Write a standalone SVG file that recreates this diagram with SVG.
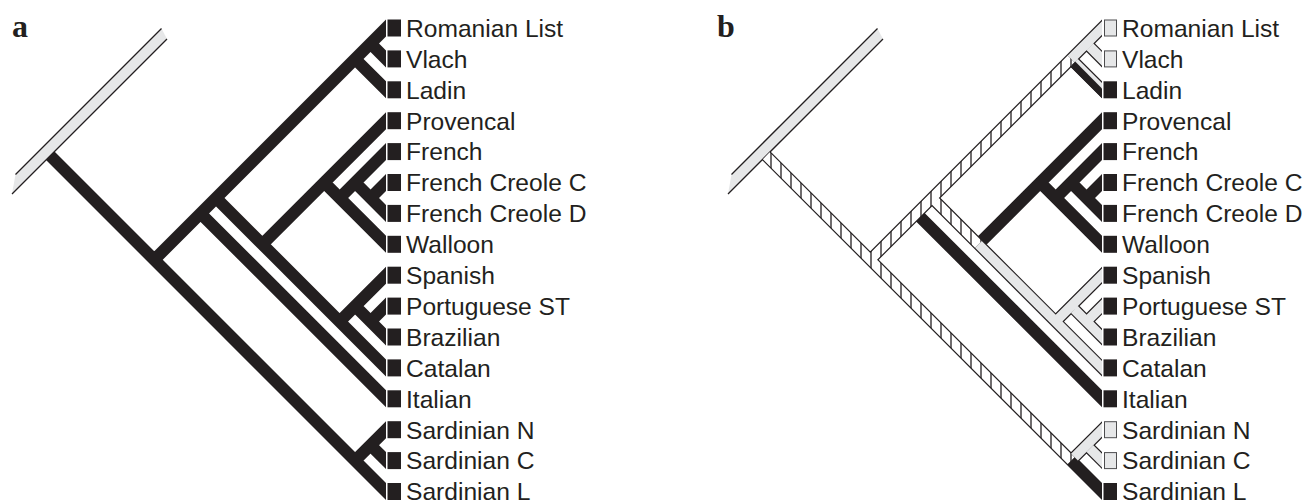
<svg xmlns="http://www.w3.org/2000/svg" width="1306" height="501" viewBox="0 0 1306 501">
<defs>
<style>
.lbl{font-family:"Liberation Sans",Arial,Helvetica,sans-serif;font-size:24.6px;fill:#231f20}
.panel{font-family:"Liberation Serif","Times New Roman",serif;font-weight:bold;font-size:32px;fill:#231f20}
.br{fill:none;stroke:#231f20;stroke-width:12;stroke-linecap:butt}
.hf{fill:none;stroke:url(#hatch);stroke-width:9.6;stroke-linecap:butt}
.gf{fill:none;stroke:#e6e7e8;stroke-width:9.6;stroke-linecap:butt}
.kf{fill:none;stroke:#231f20;stroke-width:7;stroke-linecap:butt}
.box{fill:#231f20}
.gbox{fill:#e6e7e8;stroke:#4d4d4f;stroke-width:1}
.bar{fill:#e6e7e8}
.baredge{fill:none;stroke:#231f20;stroke-width:1.3}
</style>
<pattern id="hatch" patternUnits="userSpaceOnUse" width="10" height="20">
<rect width="10" height="20" fill="#ffffff"/>
<line x1="5" y1="0" x2="5" y2="20" stroke="#231f20" stroke-width="1.3"/>
</pattern>
<clipPath id="tips"><rect x="0" y="0" width="386" height="501"/></clipPath>
</defs>
<rect width="1306" height="501" fill="#ffffff"/>

<text class="panel" x="12" y="37">a</text>
<text class="panel" x="717" y="37">b</text>

<!-- panel a: plain cladogram -->
<g id="panel-a">
<g id="a-root-bar"><polygon class="bar" points="15.5,174.5 161.5,28.5 167,39 12,194"/><path class="baredge" d="M15.5,174.5L161.5,28.5M12,194L167,39"/></g>
<g id="a-connectors" clip-path="url(#tips)">
<path class="br" d="M50.25,155.75L396,501.5M154.25,259.75L396,18M200.6,213.4L396,408.8M216.05,197.95L396,377.9M355.1,58.9L396,99.8M370.55,43.45L396,68.9M262.4,244.3L396,110.7M324.2,182.5L396,254.3M339.65,197.95L396,141.6M355.1,182.5L396,223.4M370.55,197.95L396,172.5M339.65,321.55L396,265.2M355.1,306.1L396,347M370.55,321.55L396,296.1M355.1,460.6L396,419.7M370.55,445.15L396,470.6"/>
</g>
<g id="a-romanian-list"><rect class="box" x="387.5" y="19.5" width="13.5" height="17"/><text class="lbl" x="406" y="36.8">Romanian List</text></g>
<g id="a-vlach"><rect class="box" x="387.5" y="50.4" width="13.5" height="17"/><text class="lbl" x="406" y="67.7">Vlach</text></g>
<g id="a-ladin"><rect class="box" x="387.5" y="81.3" width="13.5" height="17"/><text class="lbl" x="406" y="98.6">Ladin</text></g>
<g id="a-provencal"><rect class="box" x="387.5" y="112.2" width="13.5" height="17"/><text class="lbl" x="406" y="129.5">Provencal</text></g>
<g id="a-french"><rect class="box" x="387.5" y="143.1" width="13.5" height="17"/><text class="lbl" x="406" y="160.4">French</text></g>
<g id="a-french-creole-c"><rect class="box" x="387.5" y="174" width="13.5" height="17"/><text class="lbl" x="406" y="191.3">French Creole C</text></g>
<g id="a-french-creole-d"><rect class="box" x="387.5" y="204.9" width="13.5" height="17"/><text class="lbl" x="406" y="222.2">French Creole D</text></g>
<g id="a-walloon"><rect class="box" x="387.5" y="235.8" width="13.5" height="17"/><text class="lbl" x="406" y="253.1">Walloon</text></g>
<g id="a-spanish"><rect class="box" x="387.5" y="266.7" width="13.5" height="17"/><text class="lbl" x="406" y="284">Spanish</text></g>
<g id="a-portuguese-st"><rect class="box" x="387.5" y="297.6" width="13.5" height="17"/><text class="lbl" x="406" y="314.9">Portuguese ST</text></g>
<g id="a-brazilian"><rect class="box" x="387.5" y="328.5" width="13.5" height="17"/><text class="lbl" x="406" y="345.8">Brazilian</text></g>
<g id="a-catalan"><rect class="box" x="387.5" y="359.4" width="13.5" height="17"/><text class="lbl" x="406" y="376.7">Catalan</text></g>
<g id="a-italian"><rect class="box" x="387.5" y="390.3" width="13.5" height="17"/><text class="lbl" x="406" y="407.6">Italian</text></g>
<g id="a-sardinian-n"><rect class="box" x="387.5" y="421.2" width="13.5" height="17"/><text class="lbl" x="406" y="438.5">Sardinian N</text></g>
<g id="a-sardinian-c"><rect class="box" x="387.5" y="452.1" width="13.5" height="17"/><text class="lbl" x="406" y="469.4">Sardinian C</text></g>
<g id="a-sardinian-l"><rect class="box" x="387.5" y="483" width="13.5" height="17"/><text class="lbl" x="406" y="499.6">Sardinian L</text></g>
</g>

<!-- panel b: same tree, branches shaded by reconstructed state -->
<g id="panel-b" transform="translate(716,0)">
<g id="b-root-bar"><polygon class="bar" points="15.5,174.5 161.5,28.5 167,39 12,194"/><path class="baredge" d="M15.5,174.5L161.5,28.5M12,194L167,39"/></g>
<g id="b-connectors">
<g clip-path="url(#tips)">
<!-- outlines (black branches are outline only) -->
<path class="br" d="M50.25,155.75L396,501.5M154.25,259.75L396,18M200.6,213.4L396,408.8M216.05,197.95L396,377.9M355.1,58.9L396,99.8M370.55,43.45L396,68.9M262.4,244.3L396,110.7M324.2,182.5L396,254.3M339.65,197.95L396,141.6M355.1,182.5L396,223.4M370.55,197.95L396,172.5M339.65,321.55L396,265.2M355.1,306.1L396,347M370.55,321.55L396,296.1M355.1,460.6L396,419.7M370.55,445.15L396,470.6"/>
<!-- hatched branches -->
<path class="hf" d="M50.25,155.75L355.1,460.6M157.64,256.36L355.1,58.9M219.44,201.34L262.4,244.3"/>
<!-- grey branches -->
<path class="gf" d="M355.1,58.9L396,18M373.94,46.84L396,68.9M262.4,244.3L396,377.9M343.04,318.16L396,265.2M358.49,309.49L396,347M373.94,318.16L396,296.1M358.49,457.21L396,419.7M373.94,448.54L396,470.6M358.49,62.29L396,99.8"/>
<!-- Ladin: black core on grey -->
<path class="kf" d="M356.72,64.06L400,107.34"/>
</g>
</g>
<g id="b-romanian-list"><rect class="gbox" x="388.5" y="20" width="12" height="16"/><text class="lbl" x="406" y="36.8">Romanian List</text></g>
<g id="b-vlach"><rect class="gbox" x="388.5" y="50.9" width="12" height="16"/><text class="lbl" x="406" y="67.7">Vlach</text></g>
<g id="b-ladin"><rect class="box" x="387.5" y="81.3" width="13.5" height="17"/><text class="lbl" x="406" y="98.6">Ladin</text></g>
<g id="b-provencal"><rect class="box" x="387.5" y="112.2" width="13.5" height="17"/><text class="lbl" x="406" y="129.5">Provencal</text></g>
<g id="b-french"><rect class="box" x="387.5" y="143.1" width="13.5" height="17"/><text class="lbl" x="406" y="160.4">French</text></g>
<g id="b-french-creole-c"><rect class="box" x="387.5" y="174" width="13.5" height="17"/><text class="lbl" x="406" y="191.3">French Creole C</text></g>
<g id="b-french-creole-d"><rect class="box" x="387.5" y="204.9" width="13.5" height="17"/><text class="lbl" x="406" y="222.2">French Creole D</text></g>
<g id="b-walloon"><rect class="box" x="387.5" y="235.8" width="13.5" height="17"/><text class="lbl" x="406" y="253.1">Walloon</text></g>
<g id="b-spanish"><rect class="box" x="387.5" y="266.7" width="13.5" height="17"/><text class="lbl" x="406" y="284">Spanish</text></g>
<g id="b-portuguese-st"><rect class="box" x="387.5" y="297.6" width="13.5" height="17"/><text class="lbl" x="406" y="314.9">Portuguese ST</text></g>
<g id="b-brazilian"><rect class="box" x="387.5" y="328.5" width="13.5" height="17"/><text class="lbl" x="406" y="345.8">Brazilian</text></g>
<g id="b-catalan"><rect class="box" x="387.5" y="359.4" width="13.5" height="17"/><text class="lbl" x="406" y="376.7">Catalan</text></g>
<g id="b-italian"><rect class="box" x="387.5" y="390.3" width="13.5" height="17"/><text class="lbl" x="406" y="407.6">Italian</text></g>
<g id="b-sardinian-n"><rect class="gbox" x="388.5" y="421.7" width="12" height="16"/><text class="lbl" x="406" y="438.5">Sardinian N</text></g>
<g id="b-sardinian-c"><rect class="gbox" x="388.5" y="452.6" width="12" height="16"/><text class="lbl" x="406" y="469.4">Sardinian C</text></g>
<g id="b-sardinian-l"><rect class="box" x="387.5" y="483" width="13.5" height="17"/><text class="lbl" x="406" y="499.6">Sardinian L</text></g>
</g>
</svg>
